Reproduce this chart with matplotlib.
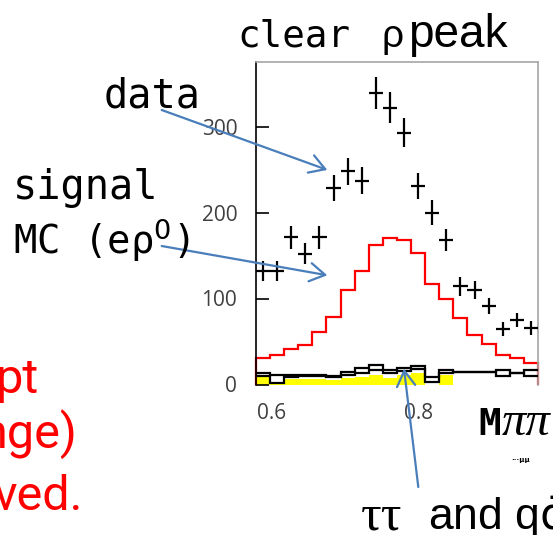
import matplotlib
matplotlib.use("Agg")
import matplotlib.pyplot as plt
import numpy as np

# histogram values, 20 bins
data_counts = [132, 132, 171, 152, 171, 228, 248, 237, 339, 322,
               293, 231, 200, 168, 114, 110, 91, 65, 75, 66]
signal_mc = [30.5, 34, 41, 46, 61, 79, 110, 132, 162, 170,
             167.5, 153, 116.5, 100, 77, 57.5, 47, 34, 30.5, 25]
bkg_upper = [13, 11, 11.5, 11, 11, 10, 14, 19, 22.5, 17,
             19, 22, 9, 17, 14, 14, 14, 17, 13, 17]
bkg_lower = [10, 1.5, 8.5, 10, 10, 9, 10.5, 13, 17, 13,
             16, 17.5, 2.6, 13, 14, 14, 14, 10, 13, 10]
bkg_filled = [9, 0.5, 6, 6, 6, 5.5, 7, 9, 11.5, 7,
              11, 13, 0, 11, 0, 0, 0, 0, 0, 0]
x_ticks = [0.6, 0.8]
x_ticklabels = ["0.6", "0.8"]
y_ticks = [0, 100, 200, 300]
y_ticklabels = ["0", "100", "200", "300"]

x_lo, x_hi = 0.5786, 0.9633
edges = np.linspace(x_lo, x_hi, len(data_counts) + 1)
centers = 0.5 * (edges[:-1] + edges[1:])
half_w = 0.5 * (edges[1] - edges[0])

W, H = 553, 535
fig = plt.figure(figsize=(W / 100, H / 100), dpi=100)


def fx(x):
    return x / W


def fy(y):
    return 1 - y / H


ax = fig.add_axes([256 / W, (H - 384.5) / H, 282 / W, 322.5 / H])
ax.set_xlim(x_lo, x_hi)
ax.set_ylim(0, 375)

ax.stairs(bkg_filled, edges, fill=True, color="#ffff00", lw=0, zorder=1)
ax.stairs(signal_mc, edges, baseline=0, color="#ff0000", lw=1.6, zorder=2, clip_on=False)
ax.stairs(bkg_lower, edges, baseline=None, color="black", lw=1.6, zorder=3, clip_on=False)
ax.stairs(bkg_upper, edges, baseline=None, color="black", lw=1.6, zorder=3, clip_on=False)
ax.errorbar(centers, data_counts, xerr=half_w, yerr=np.sqrt(data_counts),
            fmt="none", ecolor="black", elinewidth=1.6, capsize=0, zorder=4)

ax.spines["bottom"].set_visible(False)
ax.spines["left"].set_color("black")
ax.spines["left"].set_linewidth(1.2)
for s in ["top", "right"]:
    ax.spines[s].set_color("#a6a6a6")
    ax.spines[s].set_linewidth(1.2)

ax.set_yticks(y_ticks)
ax.set_yticklabels(y_ticklabels, fontsize=15, color="#404040", family="Open Sans")
ax.set_xticks(x_ticks)
ax.set_xticklabels(x_ticklabels, fontsize=15, color="#404040", family="Open Sans")
ax.tick_params(axis="y", direction="in", length=9.5, width=1.2, pad=13.5)
ax.tick_params(axis="x", length=0, pad=13)

# text around the plot
mono = "DejaVu Sans Mono"
fig.text(fx(237), fy(47), "clear", family=mono, fontsize=27)
fig.text(fx(382), fy(47), "ρ", family="Liberation Sans", fontsize=28)
fig.text(fx(408), fy(47), "peak", family="Liberation Sans", fontsize=33)
fig.text(fx(104), fy(107), "data", family=mono, fontsize=29)
fig.text(fx(13), fy(199), "signal", family=mono, fontsize=29)
fig.text(fx(13), fy(254), "MC (eρ$^{0}$)", family=mono, fontsize=28)

fig.text(fx(478), fy(435), "M", family=mono, weight="bold", fontsize=27)
fig.text(fx(502), fy(435), "ππ", family="Liberation Serif", style="italic", fontsize=35)
fig.text(fx(511), fy(462), "···μμ", family="DejaVu Sans", weight="bold", fontsize=5)

fig.text(fx(361), fy(530), "ττ", family="Liberation Serif", fontsize=37)
fig.text(fx(428), fy(530), r"and q$\bar{\mathrm{q}}$", family="Liberation Sans", fontsize=32)

red_kw = dict(family="Roboto", color="#ff0000", fontsize=35, ha="right")
fig.text(fx(39), fy(393), "pt", **red_kw)
fig.text(fx(78), fy(448), "nge)", **red_kw)
fig.text(fx(83), fy(510), "ved.", **red_kw)

# blue arrows
arrow_kw = dict(arrowstyle="->, head_length=0.5, head_width=0.3",
                color="#4a7ebb", lw=1.6, mutation_scale=22, shrinkA=0, shrinkB=0)
ax.annotate("", xy=(0.6759, 249.5), xycoords="data",
            xytext=(161.7, H - 110), textcoords="figure pixels",
            arrowprops=arrow_kw, annotation_clip=False, zorder=6)
ax.annotate("", xy=(0.6759, 127), xycoords="data",
            xytext=(161.7, H - 246), textcoords="figure pixels",
            arrowprops=arrow_kw, annotation_clip=False, zorder=6)
ax.annotate("", xy=(0.7805, 18.4), xycoords="data",
            xytext=(418.3, H - 487), textcoords="figure pixels",
            arrowprops=arrow_kw, annotation_clip=False, zorder=6)

fig.savefig("out.png", dpi=100)
